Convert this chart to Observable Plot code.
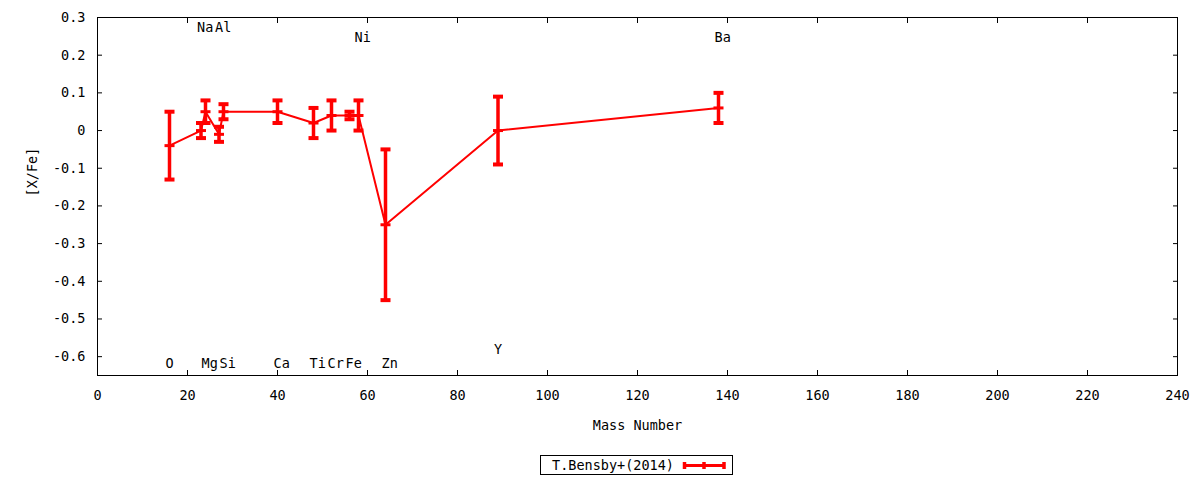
<!DOCTYPE html>
<html>
<head>
<meta charset="utf-8">
<script src="https://cdn.jsdelivr.net/npm/d3@7"></script>
<script src="https://cdn.jsdelivr.net/npm/@observablehq/plot@0.6"></script>
<style>
  body { margin: 0; background: #fff; }
  #legend { width: 1200px; height: 40px; }
</style>
</head>
<body>
<div id="chart"></div>
<div id="legend"></div>
<script>
// Data: mass number, [X/Fe] and error (T.Bensby+ 2014)
const elements = ["O", "Na", "Mg", "Al", "Si", "Ca", "Ti", "Cr", "Fe", "Ni", "Zn", "Y", "Ba"];
const massNumbers = [16, 23, 24, 27, 28, 40, 48, 52, 56, 58, 64, 89, 138];
const xfeValues = [-0.04, 0.00, 0.05, -0.01, 0.05, 0.05, 0.02, 0.04, 0.04, 0.04, -0.25, 0.00, 0.06];
const xfeErrors = [0.09, 0.02, 0.03, 0.02, 0.02, 0.03, 0.04, 0.04, 0.01, 0.04, 0.20, 0.09, 0.04];

// Element name labels (placed in data coordinates)
const labelNames = ["O", "Na", "Mg", "Al", "Si", "Ca", "Ti", "Cr", "Fe", "Ni", "Zn", "Y", "Ba"];
const labelMass = [16, 23, 24, 27, 28, 40, 48, 52, 56, 58, 64, 89, 138];
const labelY = [-0.618, 0.273, -0.618, 0.273, -0.618, -0.618, -0.618, -0.618, -0.618, 0.247, -0.618, -0.581, 0.247];

const xTicks = [0, 20, 40, 60, 80, 100, 120, 140, 160, 180, 200, 220, 240];
const yTicks = [-0.6, -0.5, -0.4, -0.3, -0.2, -0.1, 0, 0.1, 0.2, 0.3];

const seriesName = "T.Bensby+(2014)";
const red = "#ff0000";

const data = elements.map((e, i) => ({
  el: e, mass: massNumbers[i], val: xfeValues[i], err: xfeErrors[i],
  lo: xfeValues[i] - xfeErrors[i], hi: xfeValues[i] + xfeErrors[i]
}));
const labels = labelNames.map((n, i) => ({name: n, mass: labelMass[i], y: labelY[i]}));

const capShape = {draw(context, l) { context.moveTo(0, 0); context.lineTo(0, -l); }};
const fmtY = d => String(+d.toFixed(1));
const font = "DejaVu Sans Mono";

const chart = Plot.plot({
  width: 1200,
  height: 440,
  marginLeft: 97,
  marginRight: 23,
  marginTop: 17,
  marginBottom: 65,
  style: {fontFamily: font, fontSize: "13.5px", color: "#000", background: "#fff"},
  x: {domain: [0, 240]},
  y: {domain: [-0.65, 0.3]},
  marks: [
    Plot.axisX({ticks: xTicks, anchor: "bottom", tickSize: -5, tickPadding: 20, tickFormat: d => String(d), label: null}),
    Plot.axisX({ticks: xTicks, anchor: "top", tickSize: -5, fill: "none", label: null}),
    Plot.axisY({ticks: yTicks, anchor: "left", tickSize: -5, tickPadding: 17, tickFormat: fmtY, label: null}),
    Plot.axisY({ticks: yTicks, anchor: "right", tickSize: -5, fill: "none", label: null}),
    Plot.frame({stroke: "#000", strokeWidth: 1}),
    Plot.text(labels, {x: "mass", y: "y", text: "name", textAnchor: "start", dx: -4, fill: "#000"}),
    Plot.line(data, {x: "mass", y: "val", stroke: red, strokeWidth: 2}),
    Plot.ruleX(data, {x: "mass", y1: "lo", y2: "hi", stroke: red, strokeWidth: 3.5}),
    Plot.vector(data, {x: "mass", y: "lo", length: 10, rotate: 90, anchor: "middle", shape: capShape, stroke: red, strokeWidth: 4, strokeLinecap: "butt"}),
    Plot.vector(data, {x: "mass", y: "hi", length: 10, rotate: 90, anchor: "middle", shape: capShape, stroke: red, strokeWidth: 4, strokeLinecap: "butt"}),
    Plot.vector(data, {x: "mass", y: "val", length: 10, rotate: 90, anchor: "middle", shape: capShape, stroke: red, strokeWidth: 3, strokeLinecap: "butt"}),
    Plot.text(["Mass Number"], {frameAnchor: "bottom", dy: 54, text: d => d, fill: "#000"}),
    Plot.text(["[X/Fe]"], {frameAnchor: "left", dx: -65, rotate: -90, text: d => d, fill: "#000"})
  ]
});
document.getElementById("chart").appendChild(chart);

// Legend below the plot
const lg = d3.select("#legend").append("svg").attr("width", 1200).attr("height", 40)
  .style("font-family", font).style("font-size", "13.5px");
lg.append("rect").attr("x", 540.5).attr("y", 15.5).attr("width", 192).attr("height", 19)
  .attr("fill", "#fff").attr("stroke", "#000");
lg.append("text").attr("x", 674).attr("y", 25).attr("text-anchor", "end")
  .attr("dominant-baseline", "central").attr("fill", "#000").text(seriesName);
lg.append("line").attr("x1", 683).attr("x2", 725).attr("y1", 25.5).attr("y2", 25.5)
  .attr("stroke", red).attr("stroke-width", 3);
[684.5, 704, 724].forEach(x => lg.append("line").attr("x1", x).attr("x2", x)
  .attr("y1", 22).attr("y2", 29).attr("stroke", red).attr("stroke-width", 3.5));
</script>
</body>
</html>
